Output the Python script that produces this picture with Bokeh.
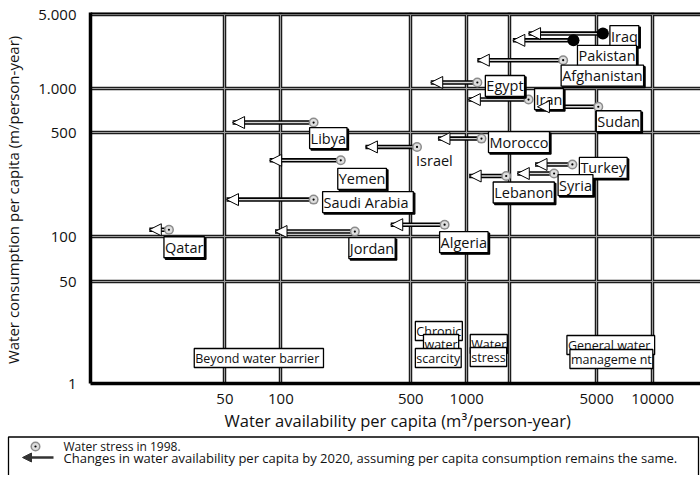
import numpy as np
from bokeh.plotting import figure
from bokeh.models import ColumnDataSource, FixedTicker, Grid, Span, Arrow, NormalHead, Title
from bokeh.layouts import column
from bokeh.core.properties import value
from bokeh.embed import file_html
from bokeh.resources import INLINE

FONT = "Open Sans"

# ---------------- data ----------------
countries = ["Iraq", "Pakistan", "Afghanistan", "Egypt", "Iran", "Sudan", "Libya",
             "Morocco", "Israel", "Yemen", "Turkey", "Syria", "Lebanon",
             "Saudi  Arabia", "Qatar", "Jordan", "Algeria"]
# water availability per capita (m3/person-year): 1998 and projected 2020
avail_1998 = [5400, 3750, 3300, 1140, 2150, 5100, 150, 1200, 540, 210, 3700, 2950, 1630, 150, 25, 250, 760]
avail_2020 = [2150, 1770, 1140, 640, 1020, 2400, 55, 700, 285, 87, 2330, 1870, 1030, 51, 19.6, 93, 390]
# water consumption per capita (m3/person-year)
consumption = [3300, 2850, 1850, 1140, 840, 750, 585, 455, 400, 325, 305, 265, 255, 177, 111, 108, 120]
solid_dot = ["Iraq", "Pakistan"]
unboxed = ["Israel"]

x_tick_vals = [50, 100, 500, 1000, 1700, 5000, 10000]
x_tick_labels = ["50", "100", "500", "1000", "", "5000", "10000"]
y_tick_vals = [1, 50, 100, 500, 1000, 5000]
y_tick_labels = ["1", "50", "100", "500", "1.000", "5.000"]

region_texts = ["Beyond  water barrier", "Chronic", "water", "scarcity", "Water", "stress",
                "General  water", "manageme nt"]

# ---------------- layout ----------------
# the printed y scale is not uniform: display position (px from bottom) of each printed tick
y_tick_pos = [0, 102, 147, 251, 295, 369]
label_dx = [7, 4, -2, 8, 6, -2, -4, 7, -1, -3, 7, 4, -13, 9, -5, -6, -5]
label_dy = [-8, 5, 5, -7, -11, 4, 5, -7, 4, 8, -7, 1, 6, -8, 7, 6, 7]
region_x = [34.2, 529, 585, 529, 1044, 1044, 3458, 3589]
region_top = [35, 62, 49, 35, 49, 36, 48, 34]


def ypos(v):
    return np.interp(np.log10(np.asarray(v, dtype=float)), np.log10(y_tick_vals), y_tick_pos)


W = 700
p = figure(width=W, height=435, x_axis_type="log", x_range=(9.46, 18090), y_range=(0, 371),
           output_backend="svg", toolbar_location=None,
           min_border_left=88, min_border_right=0, min_border_top=12, min_border_bottom=52)
p.frame_align = False
p.outline_line_color = None
p.background_fill_color = "white"

# axes
p.xaxis.ticker = FixedTicker(ticks=x_tick_vals)
p.xaxis.major_label_overrides = {v: s for v, s in zip(x_tick_vals, x_tick_labels)}
p.yaxis.ticker = FixedTicker(ticks=y_tick_pos)
p.yaxis.major_label_overrides = {v: s for v, s in zip(y_tick_pos, y_tick_labels)}
for ax in (p.xaxis[0], p.yaxis[0]):
    ax.axis_line_width = 3.5
    ax.axis_line_color = "black"
    ax.major_tick_line_color = None
    ax.minor_tick_line_color = None
    ax.major_label_text_font = FONT
    ax.major_label_text_font_size = "15px"
    ax.major_label_text_color = "#111111"
    ax.axis_label_text_font = FONT
    ax.axis_label_text_font_size = "15px"
    ax.axis_label_text_font_style = "normal"
    ax.axis_label_text_color = "#111111"
p.xaxis.major_label_standoff = 4
p.yaxis.major_label_standoff = 8
p.yaxis.axis_label = "Water consumption per capita  (m/person-year)"
p.yaxis.axis_label_standoff = 12

p.add_layout(Title(text="Water availability per capita (m\u00b3/person-year)", align="left",
                   offset=134, text_font=FONT, text_font_size="16.5px", text_font_style="normal",
                   text_color="#111111", standoff=1), "below")

# double grid lines
for g in (p.xgrid[0], p.ygrid[0]):
    g.grid_line_color = "#1c1c1c"
    g.grid_line_width = 3.5
p.add_layout(Grid(dimension=0, ticker=p.xaxis[0].ticker, grid_line_color="#9a9a9a", grid_line_width=1))
p.add_layout(Grid(dimension=1, ticker=p.yaxis[0].ticker, grid_line_color="#9a9a9a", grid_line_width=1))
p.add_layout(Span(location=371, dimension="width", line_color="black", line_width=3.5))

# arrows
ys = ypos(consumption)
src = ColumnDataSource(dict(country=countries, x0=avail_1998, x1=avail_2020, y=ys))
p.segment(x0="x0", y0="y", x1="x1", y1="y", line_color="black", line_width=4.5, source=src)
p.segment(x0="x0", y0="y", x1="x1", y1="y", line_color="#d6d6d6", line_width=1.4, source=src)
p.add_layout(Arrow(end=NormalHead(size=12, fill_color="white", line_color="black", line_width=1),
                   x_start="x0", y_start="y", x_end="x1", y_end="y", line_alpha=0, source=src))

# dots
gi = [i for i, c in enumerate(countries) if c not in solid_dot]
si = [i for i, c in enumerate(countries) if c in solid_dot]
gsrc = ColumnDataSource(dict(x=[avail_1998[i] for i in gi], y=[ys[i] for i in gi]))
ssrc = ColumnDataSource(dict(x=[avail_1998[i] for i in si], y=[ys[i] for i in si]))
p.scatter(x="x", y="y", size=10, fill_color="#8c8c8c", line_color=None, source=gsrc)
p.scatter(x="x", y="y", size=7, fill_color="#dedede", line_color=None, source=gsrc)
p.scatter(x="x", y="y", size=2.2, fill_color="black", line_color=None, source=gsrc)
p.scatter(x="x", y="y", size=12, fill_color="black", line_color=None, source=ssrc)

# country labels
bi = [i for i, c in enumerate(countries) if c not in unboxed]
ui = [i for i, c in enumerate(countries) if c in unboxed]


def sub(idx, ddx=0, ddy=0):
    return ColumnDataSource(dict(x=[avail_1998[i] for i in idx], y=[ys[i] for i in idx],
                                 text=[countries[i] for i in idx],
                                 dx=[label_dx[i] + ddx for i in idx],
                                 dy=[label_dy[i] + ddy for i in idx]))


common = dict(x="x", y="y", text="text", x_offset="dx", y_offset="dy", text_align="left",
              text_baseline="top", text_font=value(FONT), text_font_size="14.5px")
p.text(source=sub(bi, 1.5, 1.5), text_color="black", background_fill_color="black",
       border_line_color="black", border_line_width=1.3, padding=1, **common)
p.text(source=sub(bi), text_color="#111111", background_fill_color="white",
       border_line_color="black", border_line_width=1.3, padding=1, **common)
p.text(source=sub(ui), text_color="#111111", **common)

# region labels
rsrc = ColumnDataSource(dict(x=region_x, y=region_top, text=region_texts))
p.text(x="x", y="y", text="text", source=rsrc, text_align="left", text_baseline="top",
       text_font=value(FONT), text_font_size="12.5px", text_color="#111111",
       background_fill_color="white", border_line_color="black", border_line_width=1.3, padding=1)

# ---------------- legend strip ----------------
LH = 40
lg = figure(width=W, height=LH, x_range=(0, W), y_range=(0, LH), min_border=0,
            x_axis_location=None, y_axis_location=None, toolbar_location=None,
            output_backend="svg")
lg.frame_align = False
lg.grid.visible = False
lg.outline_line_color = None
lg.quad(left=8, right=W - 2, top=LH - 1.5, bottom=-10, fill_color=None, line_color="black", line_width=1.3)
lg.scatter(x=[35], y=[29], size=10, fill_color="#8c8c8c", line_color=None)
lg.scatter(x=[35], y=[29], size=7, fill_color="#dedede", line_color=None)
lg.scatter(x=[35], y=[29], size=2.2, fill_color="black", line_color=None)
lg.add_layout(Arrow(end=NormalHead(size=9, fill_color="#333333", line_color="#333333"),
                    x_start=53, y_start=18, x_end=22, y_end=18, line_width=2.5, line_color="#333333"))
lg.text(x=[63], y=[29], text=["Water stress  in 1998."],
        text_align="left", text_baseline="middle", text_font=value(FONT), text_font_size="12px",
        text_color="#111111")
lg.text(x=[63], y=[18],
        text=["Changes  in water availability per capita by 2020, assuming per capita consumption remains  the same."],
        text_align="left", text_baseline="middle", text_font=value(FONT), text_font_size="13px",
        text_color="#111111")

layout = column(p, lg, spacing=0)
open("out.html", "w").write(file_html(layout, INLINE))
